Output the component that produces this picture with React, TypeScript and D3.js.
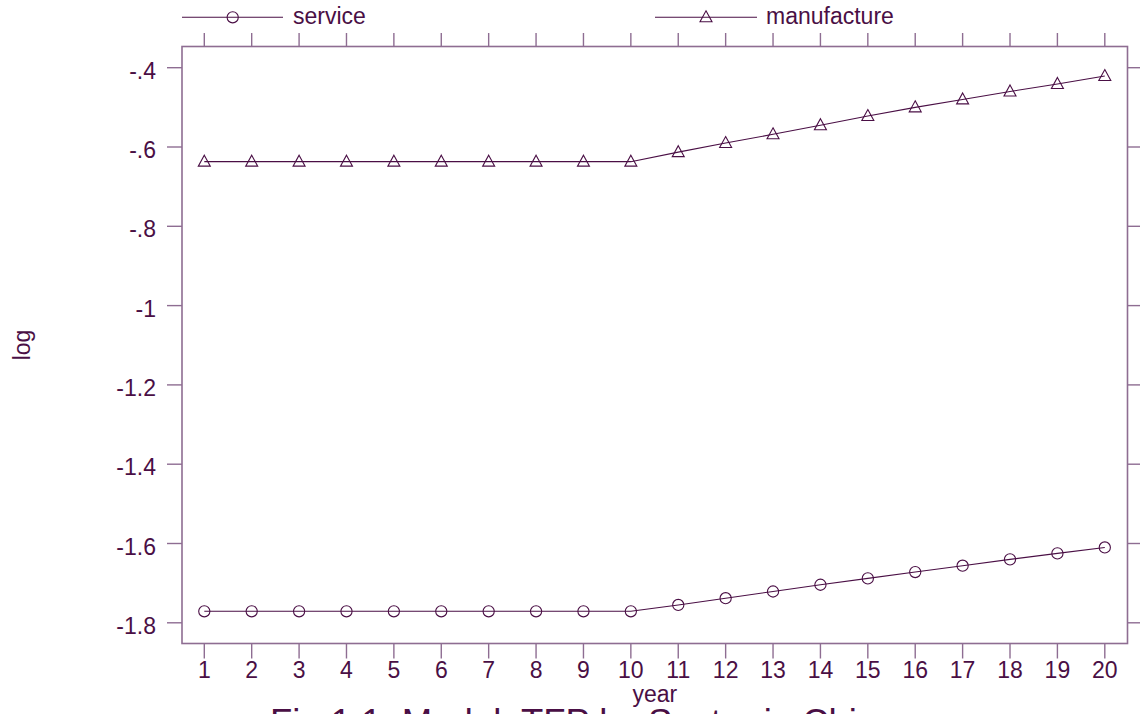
import React from "react";
import * as d3 from "d3";

const years = [1, 2, 3, 4, 5, 6, 7, 8, 9, 10, 11, 12, 13, 14, 15, 16, 17, 18, 19, 20];
const service = [
  -1.771, -1.771, -1.771, -1.771, -1.771, -1.771, -1.771, -1.771, -1.771, -1.771,
  -1.755, -1.738, -1.721, -1.704, -1.688, -1.672, -1.656, -1.64, -1.625, -1.61,
];
const manufacture = [
  -0.637, -0.637, -0.637, -0.637, -0.637, -0.637, -0.637, -0.637, -0.637, -0.637,
  -0.613, -0.59, -0.568, -0.545, -0.522, -0.5, -0.48, -0.46, -0.441, -0.421,
];
const yTicks = [-1.8, -1.6, -1.4, -1.2, -1, -0.8, -0.6, -0.4];
const seriesNames = ["service", "manufacture"];
const title = "Fig 1.1: Model: TFP by Sector in China";

const W = 1140;
const H = 714;
const box = { left: 182, right: 1127.5, top: 46.5, bottom: 643.5 };
const ink = "#4a0f45";
const axisColor = "#8e6d92";
const font = "'Liberation Sans', Arial, Helvetica, sans-serif";

// Stata style: "-.4" rather than "-0.4", plain hyphen
const fmt = (v: number) => String(Math.round(v * 10) / 10).replace(/^(-?)0\./, "$1.");

function Circle({ x, y }: { x: number; y: number }) {
  return <circle cx={x} cy={y} r={5.6} fill="none" stroke={ink} strokeWidth={1.1} />;
}

function Tri({ x, y }: { x: number; y: number }) {
  return (
    <path
      d={`M${x},${y - 6.5}L${x + 6},${y + 4.5}L${x - 6},${y + 4.5}Z`}
      fill="none"
      stroke={ink}
      strokeWidth={1.1}
    />
  );
}

export default function App() {
  const x = d3.scaleLinear().domain([1, 20]).range([204.3, 1104.8]);
  const y = d3.scaleLinear().domain([-0.4, -1.8]).range([67.7, 622.8]);

  const line = d3
    .line<number>()
    .x((_, i) => x(years[i]))
    .y((d) => y(d));

  return (
    <svg
      width={W}
      height={H}
      style={{ position: "absolute", left: 0, top: 0, background: "#fff" }}
      fontFamily={font}
    >
      {/* legend */}
      <g>
        <line x1={182} x2={283} y1={17.3} y2={17.3} stroke={ink} strokeWidth={1.1} />
        <Circle x={232.7} y={17.3} />
        <text x={293} y={24} fontSize={23} fill={ink}>
          {seriesNames[0]}
        </text>
        <line x1={655} x2={757} y1={17.3} y2={17.3} stroke={ink} strokeWidth={1.1} />
        <Tri x={706} y={17.3} />
        <text x={766} y={24} fontSize={23} fill={ink}>
          {seriesNames[1]}
        </text>
      </g>

      {/* frame */}
      <rect
        x={box.left}
        y={box.top}
        width={box.right - box.left}
        height={box.bottom - box.top}
        fill="none"
        stroke={axisColor}
        strokeWidth={1.6}
      />

      {/* x ticks bottom + top */}
      {years.map((t) => (
        <g key={"x" + t}>
          <line x1={x(t)} x2={x(t)} y1={box.bottom} y2={box.bottom + 15} stroke={axisColor} strokeWidth={1.4} />
          <line x1={x(t)} x2={x(t)} y1={box.top} y2={box.top - 13.5} stroke={axisColor} strokeWidth={1.4} />
          <text x={x(t)} y={678} fontSize={23} fill={ink} textAnchor="middle">
            {t}
          </text>
        </g>
      ))}

      {/* y ticks left + right */}
      {yTicks.map((t) => (
        <g key={"y" + t}>
          <line x1={box.left - 15} x2={box.left} y1={y(t)} y2={y(t)} stroke={axisColor} strokeWidth={1.4} />
          <line x1={box.right} x2={W} y1={y(t)} y2={y(t)} stroke={axisColor} strokeWidth={1.4} />
          <text x={156} y={y(t) + 11} fontSize={23} fill={ink} textAnchor="end">
            {fmt(t)}
          </text>
        </g>
      ))}

      {/* axis titles */}
      <text x={(box.left + box.right) / 2} y={702} fontSize={23} fill={ink} textAnchor="middle">
        year
      </text>
      <text
        transform={`translate(30,${(box.top + box.bottom) / 2}) rotate(-90)`}
        fontSize={23}
        fill={ink}
        textAnchor="middle"
      >
        log
      </text>
      {/* title sits mostly below the visible area, as in the source image */}
      <text x={270} y={735} fontSize={36.5} fill={ink}>
        {title}
      </text>

      {/* series */}
      <path d={line(service) || ""} fill="none" stroke={ink} strokeWidth={1.1} />
      <path d={line(manufacture) || ""} fill="none" stroke={ink} strokeWidth={1.1} />
      {service.map((v, i) => (
        <Circle key={"s" + i} x={x(years[i])} y={y(v)} />
      ))}
      {manufacture.map((v, i) => (
        <Tri key={"m" + i} x={x(years[i])} y={y(v)} />
      ))}
    </svg>
  );
}
